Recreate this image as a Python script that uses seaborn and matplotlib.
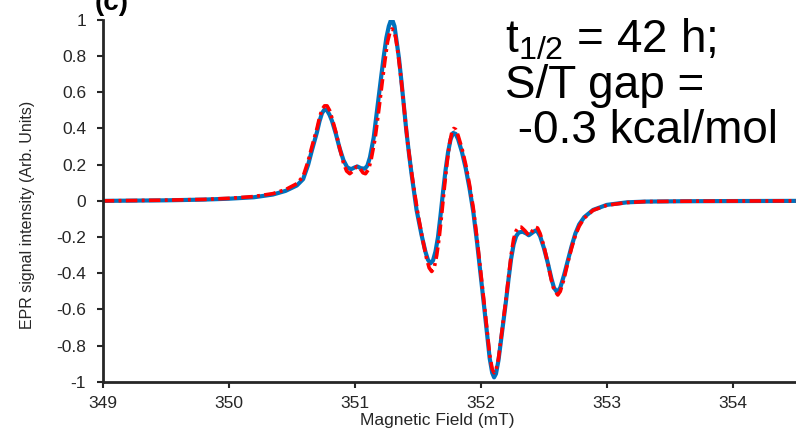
import numpy as np
import pandas as pd
import matplotlib
matplotlib.use("Agg")
import matplotlib.pyplot as plt
import seaborn as sns

# ---- data ----
field_blue = [349.00, 349.50, 349.80, 350.00, 350.20, 350.35, 350.45, 350.54, 350.59, 350.63,
              350.66, 350.70, 350.72, 350.74, 350.76, 350.78, 350.80, 350.82, 350.85, 350.88,
              350.91, 350.94, 350.97, 351.00, 351.02, 351.05, 351.08, 351.10, 351.12, 351.15,
              351.18, 351.21, 351.23, 351.25, 351.27, 351.285, 351.30, 351.315, 351.33, 351.35,
              351.37, 351.39, 351.41, 351.43, 351.45, 351.49, 351.53, 351.56, 351.58, 351.60,
              351.62, 351.64, 351.66, 351.68, 351.70, 351.72, 351.74, 351.76, 351.78, 351.80,
              351.82, 351.85, 351.88, 351.91, 351.94, 351.97, 352.00, 352.03, 352.05, 352.07,
              352.09, 352.105, 352.12, 352.14, 352.16, 352.18, 352.20, 352.22, 352.24, 352.26,
              352.28, 352.30, 352.33, 352.36, 352.38, 352.40, 352.43, 352.45, 352.47, 352.50,
              352.53, 352.56, 352.58, 352.605, 352.63, 352.66, 352.69, 352.72, 352.75, 352.78,
              352.82, 352.89, 353.00, 353.16, 353.30, 353.60, 354.00, 354.50]
signal_blue = [0.000, 0.003, 0.007, 0.012, 0.020, 0.035, 0.055, 0.085, 0.120, 0.200,
               0.280, 0.380, 0.440, 0.485, 0.505, 0.500, 0.475, 0.440, 0.370, 0.290,
               0.225, 0.185, 0.175, 0.185, 0.190, 0.180, 0.178, 0.195, 0.240, 0.350,
               0.520, 0.690, 0.800, 0.900, 0.965, 0.995, 0.995, 0.965, 0.890, 0.790,
               0.660, 0.520, 0.380, 0.260, 0.150, -0.050, -0.190, -0.280, -0.325, -0.345,
               -0.330, -0.280, -0.200, -0.080, 0.050, 0.170, 0.270, 0.340, 0.375, 0.370,
               0.340, 0.270, 0.180, 0.070, -0.060, -0.230, -0.420, -0.610, -0.740, -0.870,
               -0.950, -0.975, -0.955, -0.880, -0.770, -0.660, -0.550, -0.430, -0.320, -0.240,
               -0.195, -0.175, -0.170, -0.180, -0.190, -0.180, -0.165, -0.170, -0.195, -0.260,
               -0.340, -0.430, -0.480, -0.505, -0.480, -0.410, -0.330, -0.250, -0.180, -0.130,
               -0.090, -0.050, -0.022, -0.008, -0.004, -0.002, -0.001, 0.000]

field_red = [349.00, 349.50, 349.80, 350.00, 350.20, 350.35, 350.45, 350.54, 350.59, 350.63,
             350.66, 350.70, 350.72, 350.74, 350.76, 350.78, 350.80, 350.82, 350.85, 350.88,
             350.91, 350.935, 350.96, 350.985, 351.015, 351.04, 351.065, 351.085, 351.11, 351.13,
             351.16, 351.19, 351.22, 351.24, 351.26, 351.28, 351.295, 351.31, 351.325, 351.34,
             351.36, 351.38, 351.40, 351.42, 351.44, 351.46, 351.50, 351.54, 351.57, 351.59,
             351.61, 351.63, 351.65, 351.67, 351.69, 351.71, 351.73, 351.75, 351.77, 351.785,
             351.80, 351.82, 351.85, 351.88, 351.91, 351.94, 351.97, 352.00, 352.03, 352.05,
             352.07, 352.09, 352.105, 352.12, 352.14, 352.16, 352.18, 352.20, 352.22, 352.24,
             352.26, 352.28, 352.30, 352.32, 352.35, 352.38, 352.41, 352.43, 352.45, 352.47,
             352.50, 352.53, 352.56, 352.58, 352.61, 352.63, 352.66, 352.69, 352.72, 352.75,
             352.78, 352.82, 352.89, 353.00, 353.16, 353.30, 353.60, 354.00, 354.50]
signal_red = [0.000, 0.004, 0.008, 0.014, 0.024, 0.040, 0.062, 0.095, 0.135, 0.220,
              0.300, 0.400, 0.460, 0.505, 0.525, 0.525, 0.500, 0.455, 0.380, 0.290,
              0.210, 0.165, 0.150, 0.165, 0.190, 0.180, 0.155, 0.150, 0.175, 0.230,
              0.340, 0.500, 0.670, 0.780, 0.880, 0.935, 0.950, 0.940, 0.900, 0.830,
              0.720, 0.590, 0.450, 0.320, 0.210, 0.110, -0.070, -0.220, -0.320, -0.370,
              -0.390, -0.370, -0.300, -0.200, -0.070, 0.070, 0.200, 0.310, 0.380, 0.400,
              0.395, 0.360, 0.290, 0.200, 0.090, -0.040, -0.210, -0.400, -0.590, -0.720,
              -0.850, -0.930, -0.950, -0.935, -0.870, -0.760, -0.650, -0.540, -0.420, -0.300,
              -0.210, -0.165, -0.145, -0.145, -0.165, -0.190, -0.165, -0.145, -0.150, -0.180,
              -0.250, -0.340, -0.440, -0.490, -0.520, -0.500, -0.430, -0.340, -0.260, -0.190,
              -0.140, -0.095, -0.052, -0.024, -0.009, -0.004, -0.002, -0.001, 0.000]

x_ticks = [349, 350, 351, 352, 353, 354]
y_ticks = [-1, -0.8, -0.6, -0.4, -0.2, 0, 0.2, 0.4, 0.6, 0.8, 1]
y_tick_labels = ["-1", "-0.8", "-0.6", "-0.4", "-0.2", "0", "0.2", "0.4", "0.6", "0.8", "1"]

# ---- style ----
sns.set_theme(style="ticks")
plt.rcParams["font.family"] = ["Liberation Sans", "DejaVu Sans"]
plt.rcParams["axes.unicode_minus"] = False
plt.rcParams["mathtext.fontset"] = "custom"
plt.rcParams["mathtext.rm"] = "Liberation Sans"
plt.rcParams["mathtext.it"] = "Liberation Sans"

axis_col = "#262626"

fig = plt.figure(figsize=(7.96, 4.32), dpi=100)
ax = fig.add_axes([0.129, 0.116, 0.871, 0.838])

df_blue = pd.DataFrame({"field": field_blue, "signal": signal_blue})
df_red = pd.DataFrame({"field": field_red, "signal": signal_red})

sns.lineplot(data=df_blue, x="field", y="signal", ax=ax, color="#0072BD",
             linewidth=3.0, sort=False, estimator=None)
sns.lineplot(data=df_red, x="field", y="signal", ax=ax, color="#FF0000",
             linewidth=2.6, linestyle=(0, (3.2, 1.2, 0.8, 1.2)), sort=False, estimator=None)

ax.set_xlim(349, 354.5)
ax.set_ylim(-1, 1)
ax.set_xticks(x_ticks)
ax.set_xticklabels([str(t) for t in x_ticks])
ax.set_yticks(y_ticks)
ax.set_yticklabels(y_tick_labels)
ax.tick_params(axis="both", labelsize=12.5, colors=axis_col, length=4, width=1.5,
               direction="out")
ax.tick_params(axis="x", pad=6)
ax.tick_params(axis="y", pad=8)
ax.set_xlabel("Magnetic Field (mT)", fontsize=12.5, color=axis_col)
ax.set_ylabel("EPR signal intensity (Arb. Units)", fontsize=11.5, color=axis_col)
ax.xaxis.set_label_coords(0.482, -0.085)
ax.yaxis.set_label_coords(-0.098, 0.461)
for s in ["top", "right"]:
    ax.spines[s].set_visible(False)
for s in ["left", "bottom"]:
    ax.spines[s].set_color(axis_col)
    ax.spines[s].set_linewidth(2.0)

# annotation text
fs = 33
fig.text(505 / 796, 1 - 53 / 432, r"t$_{\mathrm{1/2}}$ = 42 h;", fontsize=fs, color="black",
         ha="left", va="baseline")
fig.text(505 / 796, 1 - 98 / 432, "S/T gap =", fontsize=fs, color="black",
         ha="left", va="baseline")
fig.text(505 / 796, 1 - 143 / 432, " -0.3 kcal/mol", fontsize=fs, color="black",
         ha="left", va="baseline")

# partially cut panel label at top-left (cut off in the reference as well)
fig.text(95 / 796, 1 - 10 / 432, "(c)", fontsize=20, fontweight="bold", color="black",
         ha="left", va="baseline")

fig.savefig("out.png", dpi=100)
